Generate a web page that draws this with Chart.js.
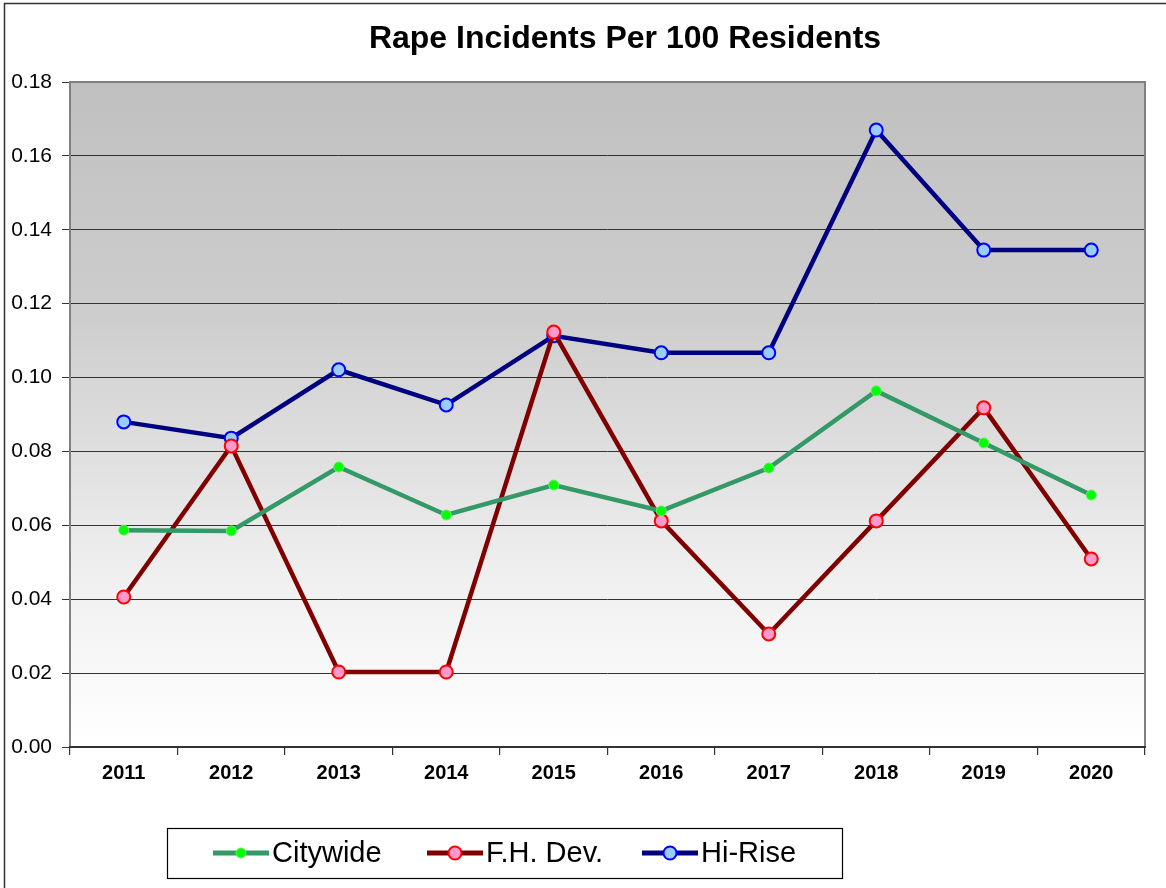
<!DOCTYPE html>
<html>
<head>
<meta charset="utf-8">
<style>
  html, body { margin: 0; padding: 0; background: #fff; }
  #wrap { width: 1166px; height: 888px; position: relative; }
</style>
<script src="https://cdn.jsdelivr.net/npm/chart.js@4/dist/chart.umd.min.js"></script>
</head>
<body>
<div id="wrap"><canvas id="c-rape" width="1166" height="888"></canvas></div>
<script>
// === DATA ===
const years = ['2011', '2012', '2013', '2014', '2015', '2016', '2017', '2018', '2019', '2020'];
const citywide = [0.0587, 0.0585, 0.0758, 0.0628, 0.0709, 0.0639, 0.0755, 0.0964, 0.0823, 0.0682];
const fhDev = [0.0406, 0.0815, 0.0203, 0.0203, 0.1123, 0.0612, 0.0306, 0.0612, 0.0918, 0.0509];
const hiRise = [0.0880, 0.0836, 0.1021, 0.0926, 0.1113, 0.1067, 0.1067, 0.1670, 0.1345, 0.1345];
const yTicks = [0, 0.02, 0.04, 0.06, 0.08, 0.10, 0.12, 0.14, 0.16, 0.18];

const FONT = 'Arial, "Liberation Sans", sans-serif';

// === PLUGINS ===
// gradient plot background + frame
const plotBg = {
    id: 'plotBg',
    beforeDraw(chart) {
        const { ctx, chartArea: a } = chart;
        ctx.save();
        const g = ctx.createLinearGradient(0, a.top, 0, a.bottom);
        g.addColorStop(0, '#c0c0c0');
        g.addColorStop(0.35, '#cdcdcd');
        g.addColorStop(0.75, '#f0f0f0');
        g.addColorStop(1, '#ffffff');
        ctx.fillStyle = g;
        ctx.fillRect(a.left, a.top, a.right - a.left, a.bottom - a.top);
        // outer chart border
        ctx.strokeStyle = '#333';
        ctx.lineWidth = 1.5;
        ctx.beginPath();
        ctx.moveTo(4.5, 900);
        ctx.lineTo(4.5, 3.5);
        ctx.lineTo(1200, 3.5);
        ctx.stroke();
        // title
        ctx.fillStyle = '#000';
        ctx.font = 'bold 32px ' + FONT;
        ctx.textAlign = 'center';
        ctx.textBaseline = 'middle';
        ctx.fillText('Rape Incidents Per 100 Residents', 625, 39);
        ctx.restore();
    },
    beforeDatasetsDraw(chart) {
        const { ctx, chartArea: a } = chart;
        ctx.save();
        ctx.strokeStyle = '#808080';
        ctx.lineWidth = 2;
        ctx.beginPath();
        ctx.moveTo(a.left, a.bottom);
        ctx.lineTo(a.left, a.top);
        ctx.lineTo(a.right, a.top);
        ctx.lineTo(a.right, a.bottom);
        ctx.stroke();
        ctx.strokeStyle = '#333';
        ctx.lineWidth = 2;
        ctx.beginPath();
        ctx.moveTo(a.left - 1, a.bottom);
        ctx.lineTo(a.right + 1, a.bottom);
        ctx.stroke();
        ctx.restore();
    }
};

// legend box with line+marker samples
const boxLegend = {
    id: 'boxLegend',
    afterDraw(chart) {
        const { ctx } = chart;
        const x0 = 167, y0 = 828, w = 675, h = 50;
        ctx.save();
        ctx.fillStyle = '#fff';
        ctx.fillRect(x0, y0, w, h);
        ctx.strokeStyle = '#000';
        ctx.lineWidth = 1.2;
        ctx.strokeRect(x0 + 0.5, y0 + 0.5, w, h);
        const starts = [213, 427, 642];
        const cy = y0 + h / 2;
        ctx.font = '29px ' + FONT;
        ctx.textBaseline = 'middle';
        ctx.textAlign = 'left';
        chart.data.datasets.forEach((ds, i) => {
            const sx = starts[i];
            ctx.strokeStyle = ds.borderColor;
            ctx.lineWidth = 5;
            ctx.lineCap = 'butt';
            ctx.beginPath();
            ctx.moveTo(sx, cy);
            ctx.lineTo(sx + 56, cy);
            ctx.stroke();
            ctx.beginPath();
            ctx.arc(sx + 28, cy, ds.pointRadius, 0, Math.PI * 2);
            ctx.fillStyle = ds.pointBackgroundColor;
            ctx.fill();
            ctx.lineWidth = ds.pointBorderWidth;
            ctx.strokeStyle = ds.pointBorderColor;
            ctx.stroke();
            ctx.fillStyle = '#000';
            ctx.fillText(ds.label, sx + 59, cy + 1);
        });
        ctx.restore();
    }
};

// === CHART ===
new Chart(document.getElementById('c-rape'), {
    type: 'line',
    data: {
        labels: years,
        datasets: [
            {
                label: 'Citywide', data: citywide,
                borderColor: '#339966', borderWidth: 4.5,
                pointBackgroundColor: '#00ff00', pointBorderColor: '#66ee66',
                pointBorderWidth: 1, pointRadius: 5
            },
            {
                label: 'F.H. Dev.', data: fhDev,
                borderColor: '#800000', borderWidth: 4.5,
                pointBackgroundColor: '#ff99cc', pointBorderColor: '#ff0000',
                pointBorderWidth: 2, pointRadius: 6.5
            },
            {
                label: 'Hi-Rise', data: hiRise,
                borderColor: '#000080', borderWidth: 4.5,
                pointBackgroundColor: '#99ccff', pointBorderColor: '#0000ff',
                pointBorderWidth: 2, pointRadius: 6.5
            }
        ]
    },
    options: {
        responsive: false,
        animation: false,
        layout: { padding: { left: 0, right: 21, top: 82, bottom: 0 } },
        elements: { line: { tension: 0 } },
        plugins: {
            legend: { display: false },
            title: { display: false },
            tooltip: { enabled: false }
        },
        scales: {
            x: {
                offset: true,
                grid: {
                    offset: true, drawOnChartArea: false, drawTicks: true,
                    tickLength: 8, color: '#333', lineWidth: 1.2
                },
                border: { display: false },
                ticks: {
                    color: '#000', padding: 6,
                    font: { family: FONT, size: 20, weight: 'bold' }
                },
                afterFit(s) { s.height = 141; }
            },
            y: {
                min: 0, max: 0.18,
                afterBuildTicks(s) { s.ticks = yTicks.map(v => ({ value: v })); },
                grid: {
                    color: '#333', lineWidth: 1,
                    drawTicks: true, tickLength: 8, tickColor: '#333'
                },
                border: { display: false },
                ticks: {
                    color: '#000', padding: 10,
                    font: { family: FONT, size: 21 },
                    callback: v => Number(v).toFixed(2)
                },
                afterFit(s) { s.width = 70; }
            }
        }
    },
    plugins: [plotBg, boxLegend]
});
</script>
</body>
</html>
